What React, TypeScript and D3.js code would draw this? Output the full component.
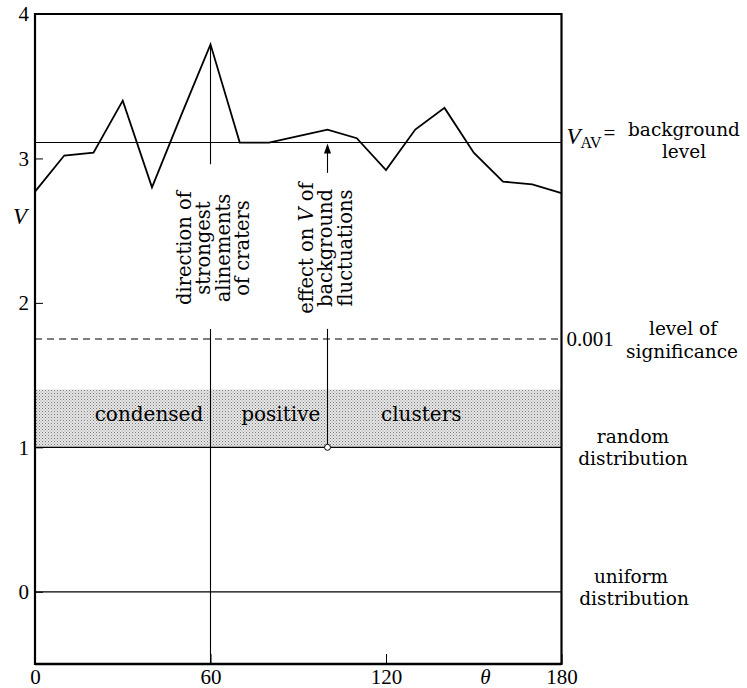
import React, { useEffect, useRef } from 'react';
import * as d3 from 'd3';

// ---- data ----
const angles = [0, 10, 20, 30, 40, 50, 60, 70, 80, 90, 100, 110, 120, 130, 140, 150, 160, 170, 180];
const vValues = [2.77, 3.02, 3.04, 3.40, 2.80, 3.30, 3.79, 3.11, 3.11, 3.155, 3.20, 3.14, 2.92, 3.20, 3.35, 3.04, 2.84, 2.82, 2.76];
const xTicks = [0, 60, 120, 180];
const yTicks = [0, 1, 2, 3, 4];
const xDomain = [0, 180];
const yDomain = [-0.5, 4];
const vAverage = 3.11;
const significanceLevel = 1.75;
const randomLevel = 1;
const uniformLevel = 0;
const clusterBand = [1, 1.4];
const peakAngle = 60;
const arrowAngle = 100;
const peakLineUpper = [3.79, 2.96];
const peakLineLower = [1.82, -0.5];
const arrowUpper = [3.11, 2.90];
const arrowLower = [1.82, 1.0];
const bandWords = ['condensed', 'positive', 'clusters'];
const bandWordAngles = [57.5, 70.5, 118.3];
const bandWordAnchors = ['end', 'start', 'start'];
const bandWordLevel = 1.18;
const peakLabel = ['direction of', 'strongest', 'alinements', 'of craters'];
const arrowLabelLines = ['background', 'fluctuations'];
const labelCenterLevel = 2.38;

const W = 747;
const H = 688;
const SERIF = '"DejaVu Serif", serif';
const NUM = '"Liberation Serif", serif';
const FS = 19.5;
const FS_R = 18.5;

export default function App() {
  const ref = useRef<SVGSVGElement>(null);

  const x = d3.scaleLinear().domain(xDomain).range([35, 561.5]);
  const y = d3.scaleLinear().domain(yDomain).range([664, 14]);
  const x0 = x.range()[0];
  const x1 = x.range()[1];
  const yTop = y.range()[1];
  const yBot = y.range()[0];

  useEffect(() => {
    const svg = d3.select(ref.current);
    svg.selectAll('g.axis').remove();
    const gy = svg.append('g').attr('class', 'axis').attr('transform', `translate(${x0},0)`);
    gy.call(d3.axisLeft(y).tickValues(yTicks).tickSize(-8).tickPadding(6).tickFormat(d3.format('d')) as any);
    gy.select('.domain').remove();
    gy.selectAll('line').attr('stroke', '#000').attr('stroke-width', 1);
    gy.selectAll('text').attr('font-family', NUM).attr('font-size', 21).attr('fill', '#000');

    const gx = svg.append('g').attr('class', 'axis').attr('transform', `translate(0,${yBot})`);
    gx.call(d3.axisBottom(x).tickValues(xTicks).tickSize(-10).tickPadding(5).tickFormat(d3.format('d')) as any);
    gx.select('.domain').remove();
    gx.selectAll('line').attr('stroke', '#000').attr('stroke-width', 1);
    gx.selectAll('text').attr('font-family', NUM).attr('font-size', 21).attr('fill', '#000');
  }, []);

  const line = d3
    .line<number>()
    .x((_, i) => x(angles[i]))
    .y((d) => y(d));

  const xp = x(peakAngle);
  const xa = x(arrowAngle);
  const yc = y(labelCenterLevel);

  const twoLine = (cx1: number, y1: number, t1: string, cx2: number, dy: number, t2: string) => (
    <text textAnchor="middle" fontFamily={SERIF} fontSize={FS_R} fill="#000">
      <tspan x={cx1} y={y1}>{t1}</tspan>
      <tspan x={cx2} y={y1 + dy}>{t2}</tspan>
    </text>
  );

  return (
    <svg ref={ref} width={W} height={H} style={{ position: 'absolute', left: 0, top: 0, background: '#fff' }}>
      <defs>
        <pattern id="stipple" width={3} height={3} patternUnits="userSpaceOnUse">
          <rect width={3} height={3} fill="#e6e6e6" />
          <rect x={0} y={0} width={1} height={1} fill="#7a7a7a" />
          <rect x={1.5} y={1.5} width={1} height={1} fill="#9a9a9a" />
        </pattern>
      </defs>

      {/* cluster band */}
      <rect x={x0} y={y(clusterBand[1])} width={x1 - x0} height={y(clusterBand[0]) - y(clusterBand[1])} fill="url(#stipple)" />

      {/* reference lines */}
      <line x1={x0} x2={x1} y1={y(vAverage)} y2={y(vAverage)} stroke="#000" strokeWidth={1.1} />
      <line x1={x0} x2={x1} y1={y(significanceLevel)} y2={y(significanceLevel)} stroke="#000" strokeWidth={1.1} strokeDasharray="7,5" />
      <line x1={x0} x2={x1} y1={y(randomLevel)} y2={y(randomLevel)} stroke="#000" strokeWidth={1.2} />
      <line x1={x0} x2={x1} y1={y(uniformLevel)} y2={y(uniformLevel)} stroke="#000" strokeWidth={1.2} />

      {/* peak direction line */}
      <line x1={xp} x2={xp} y1={y(peakLineUpper[0])} y2={y(peakLineUpper[1])} stroke="#000" strokeWidth={1.1} />
      <line x1={xp} x2={xp} y1={y(peakLineLower[0])} y2={y(peakLineLower[1])} stroke="#000" strokeWidth={1.1} />

      {/* arrow */}
      <line x1={xa} x2={xa} y1={y(arrowUpper[0]) + 8} y2={y(arrowUpper[1])} stroke="#000" strokeWidth={1.1} />
      <path d={`M${xa},${y(arrowUpper[0]) + 1} L${xa - 3.5},${y(arrowUpper[0]) + 11} L${xa + 3.5},${y(arrowUpper[0]) + 11} Z`} fill="#000" />
      <line x1={xa} x2={xa} y1={y(arrowLower[0])} y2={y(arrowLower[1]) - 3} stroke="#000" strokeWidth={1.1} />
      <circle cx={xa} cy={y(arrowLower[1])} r={3} fill="#fff" stroke="#000" strokeWidth={1} />

      {/* data line */}
      <path d={line(vValues) || ''} fill="none" stroke="#000" strokeWidth={1.8} strokeLinejoin="miter" />

      {/* frame */}
      <line x1={x0} x2={x1} y1={yTop} y2={yTop} stroke="#000" strokeWidth={1.8} />
      <line x1={x0} x2={x1} y1={yBot} y2={yBot} stroke="#000" strokeWidth={2.4} />
      <line x1={x0} x2={x0} y1={yTop - 1} y2={yBot + 1} stroke="#000" strokeWidth={2.2} />
      <line x1={x1} x2={x1} y1={yTop - 1} y2={yBot + 1} stroke="#000" strokeWidth={2.2} />

      {/* band words */}
      {bandWords.map((w, i) => (
        <text key={w} x={x(bandWordAngles[i])} y={y(bandWordLevel)} textAnchor={bandWordAnchors[i] as any}
          fontFamily={SERIF} fontSize={20} fill="#000">{w}</text>
      ))}

      {/* rotated labels */}
      {peakLabel.map((t, i) => (
        <text key={t} transform={`translate(${xp - 19.5 + i * 19.3},${yc}) rotate(-90)`} textAnchor="middle"
          fontFamily={SERIF} fontSize={FS} fill="#000">{t}</text>
      ))}
      <text transform={`translate(${xa - 14.5},${yc}) rotate(-90)`} textAnchor="middle" fontFamily={SERIF} fontSize={FS} fill="#000">
        effect on <tspan fontStyle="italic">V</tspan> of
      </text>
      {arrowLabelLines.map((t, i) => (
        <text key={t} transform={`translate(${xa + 4.8 + i * 19.3},${yc}) rotate(-90)`} textAnchor="middle"
          fontFamily={SERIF} fontSize={FS} fill="#000">{t}</text>
      ))}

      {/* axis titles */}
      <text x={20} y={224} textAnchor="middle" fontFamily={NUM} fontStyle="italic" fontSize={23} fill="#000">V</text>
      <text x={x(154)} y={684} textAnchor="middle" fontFamily={NUM} fontStyle="italic" fontSize={21} fill="#000">θ</text>

      {/* right-hand labels */}
      <text x={x1 + 5} y={y(vAverage) + 1} fontFamily={NUM} fontSize={23} fill="#000">
        <tspan fontStyle="italic">V</tspan>
        <tspan fontSize={16} dy={4}>AV</tspan>
      </text>
      <text x={x1 + 42} y={y(vAverage) - 3} fontFamily={NUM} fontSize={21} fill="#000">=</text>
      {twoLine(684, y(vAverage) - 6.5, 'background', 684, 22, 'level')}

      <text x={x1 + 5} y={y(significanceLevel) + 6.5} fontFamily={NUM} fontSize={21} fill="#000">0.001</text>
      {twoLine(683, y(significanceLevel) - 4, 'level of', 682, 22.5, 'significance')}

      {twoLine(633, y(randomLevel) - 4, 'random', 633, 22, 'distribution')}

      {twoLine(631, y(uniformLevel) - 9, 'uniform', 634, 22, 'distribution')}
    </svg>
  );
}
